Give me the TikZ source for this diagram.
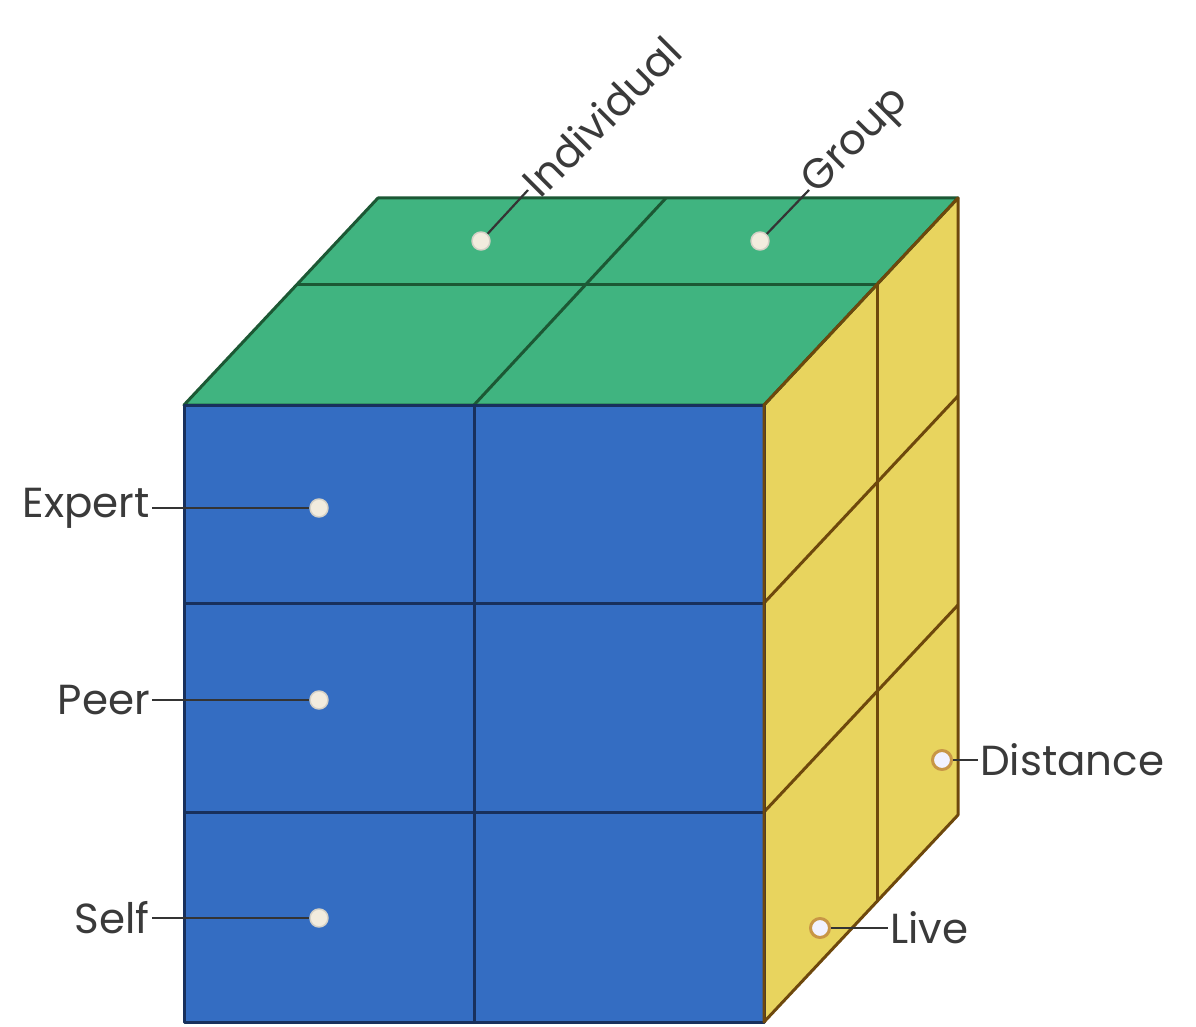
\documentclass[tikz,border=0pt]{standalone}
\usepackage{fontspec}
\setmainfont{Poppins}
\definecolor{topgreen}{RGB}{64,180,128}
\definecolor{frontblue}{RGB}{52,109,194}
\definecolor{sideyellow}{RGB}{232,212,94}
\definecolor{gline}{RGB}{28,88,52}
\definecolor{bline}{RGB}{24,48,92}
\definecolor{yline}{RGB}{110,72,12}
\definecolor{txt}{RGB}{58,58,58}
\definecolor{dotfill}{RGB}{242,236,222}
\definecolor{dotring}{RGB}{200,150,70}
\begin{document}
\begin{tikzpicture}[x=1pt,y=-1pt,line join=round,
  lbl/.style={font=\fontsize{42}{50}\selectfont,text=txt,inner sep=2pt},
  leader/.style={draw=txt!90!black,line width=2.2pt},
  dotf/.style={circle,fill=dotfill,draw=dotfill!75!gray,line width=1.5pt,minimum size=18pt,inner sep=0pt},
  doty/.style={circle,fill=blue!5!white,draw=dotring,line width=3pt,minimum size=19pt,inner sep=0pt}]
\useasboundingbox (0,0) rectangle (1196,1027);
% faces
\fill[topgreen] (184,405) -- (378,198) -- (958,198) -- (764,405) -- cycle;
\fill[frontblue] (184,405) rectangle (764,1022);
\fill[sideyellow] (764,405) -- (958,198) -- (958,815) -- (764,1022) -- cycle;
% grid lines
\draw[gline,line width=3pt] (474,405) -- (666,198);
\draw[gline,line width=3pt] (297.5,284) -- (877.5,284);
\draw[bline,line width=3pt] (474,405) -- (474,1022);
\draw[bline,line width=3pt] (184,603) -- (764,603);
\draw[bline,line width=3pt] (184,812) -- (764,812);
\draw[yline,line width=3pt] (764,603) -- (958,396);
\draw[yline,line width=3pt] (764,812) -- (958,605);
\draw[yline,line width=3pt] (877.5,284) -- (877.5,901);
% outlines
\draw[gline,line width=3pt] (184,405) -- (378,198) -- (958,198) -- (764,405) -- cycle;
\draw[bline,line width=3pt] (184,405) rectangle (764,1022);
\draw[yline,line width=3pt] (764,405) -- (958,198) -- (958,815) -- (764,1022) -- cycle;
% labels
\node[lbl,anchor=east] (lExpert) at (152,508) {Expert};
\node[lbl,anchor=east] (lPeer) at (152,700) {Peer};
\node[lbl,anchor=east] (lSelf) at (152,918) {Self};
\node[lbl,anchor=west,rotate=45] (lInd) at (528,190) {Individual};
\node[lbl,anchor=west,rotate=45] (lGroup) at (809,190) {Group};
\node[lbl,anchor=west] (lDist) at (978,760) {Distance};
\node[lbl,anchor=west] (lLive) at (888,928) {Live};
% dots
\node[dotf] (dExpert) at (319,508) {};
\node[dotf] (dPeer) at (319,700) {};
\node[dotf] (dSelf) at (319,918) {};
\node[dotf] (dInd) at (481,241) {};
\node[dotf] (dGroup) at (760,241) {};
\node[doty] (dDist) at (942,760) {};
\node[doty] (dLive) at (820,928) {};
% leaders
\draw[leader] (lExpert.east) -- (dExpert.west);
\draw[leader] (lPeer.east) -- (dPeer.west);
\draw[leader] (lSelf.east) -- (dSelf.west);
\draw[leader] (dInd) -- (lInd.west);
\draw[leader] (dGroup) -- (lGroup.west);
\draw[leader] (dDist.east) -- (lDist.west);
\draw[leader] (dLive.east) -- (lLive.west);
\end{tikzpicture}
\end{document}
